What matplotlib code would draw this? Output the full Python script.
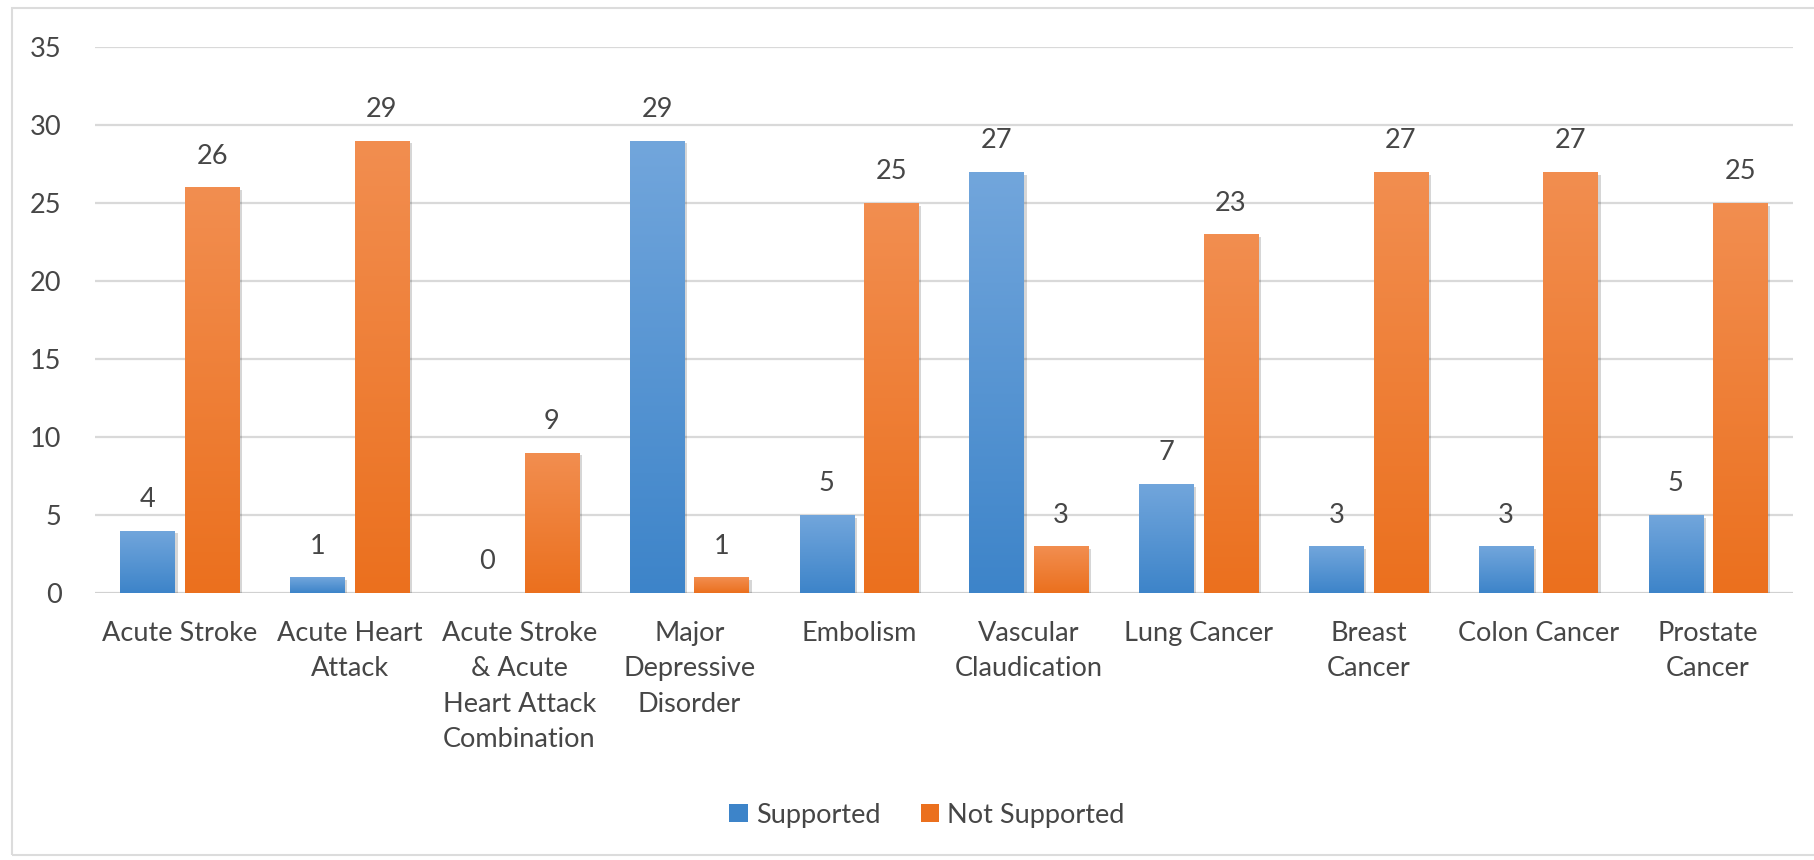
import numpy as np
import matplotlib
matplotlib.use("Agg")
import matplotlib.pyplot as plt
from matplotlib.colors import LinearSegmentedColormap
from matplotlib.patches import Rectangle, Patch
import matplotlib.patheffects as pe

categories = [
    "Acute Stroke",
    "Acute Heart\nAttack",
    "Acute Stroke\n& Acute\nHeart Attack\nCombination",
    "Major\nDepressive\nDisorder",
    "Embolism",
    "Vascular\nClaudication",
    "Lung Cancer",
    "Breast\nCancer",
    "Colon Cancer",
    "Prostate\nCancer",
]
supported = [4, 1, 0, 29, 5, 27, 7, 3, 3, 5]
not_supported = [26, 29, 9, 1, 25, 3, 23, 27, 27, 25]
series_names = ["Supported", "Not Supported"]
y_ticks = [0, 5, 10, 15, 20, 25, 30, 35]

# (top colour, bottom colour) for each series' vertical gradient
blue = ("#72a6dc", "#3d84c9")
orange = ("#f28e50", "#eb701e")
text_color = "#464646"
grid_color = "#d9d9d9"
fs = 19.5

plt.rcParams["font.family"] = ["Lato", "DejaVu Sans"]

fig = plt.figure(figsize=(18.14, 8.6), dpi=100)
ax = fig.add_axes([95 / 1814, 1 - 593 / 860, (1793 - 95) / 1814, (593 - 47) / 860])

x = np.arange(len(categories))
width = 0.32
offset = 0.19

shadow = [pe.SimplePatchShadow(offset=(2, -2), shadow_rgbFace="#000000", alpha=0.16), pe.Normal()]


def gradient_bars(xpos, values, colors, label):
    bars = ax.bar(xpos, values, width, color=colors[1], label=label, zorder=3)
    cmap = LinearSegmentedColormap.from_list("g", [colors[1], colors[0]])
    grad = np.linspace(0, 1, 256).reshape(-1, 1)
    for b in bars:
        b.set_path_effects(shadow)
        h = b.get_height()
        if h <= 0:
            continue
        bx = b.get_x()
        im = ax.imshow(grad, cmap=cmap, origin="lower", aspect="auto",
                       extent=(bx, bx + b.get_width(), 0, h), zorder=4,
                       interpolation="bilinear")
        im.set_clip_path(b)
    for xi, v in zip(xpos, values):
        ax.annotate(str(v), (xi, v), xytext=(0, 17), textcoords="offset points",
                    ha="center", va="baseline", fontsize=fs, color=text_color)
    return bars


gradient_bars(x - offset, supported, blue, series_names[0])
gradient_bars(x + offset, not_supported, orange, series_names[1])

ax.set_xlim(-0.5, len(categories) - 0.5)
ax.set_ylim(0, 35)
ax.set_yticks(y_ticks)
ax.set_xticks(x)
ax.set_xticklabels(categories, linespacing=1.52)
ax.tick_params(axis="both", length=0, labelsize=fs, labelcolor=text_color)
ax.tick_params(axis="y", pad=24)
ax.tick_params(axis="x", pad=20)
for lbl in ax.get_xticklabels():
    lbl.set_verticalalignment("top")
ax.yaxis.grid(True, color=grid_color, linewidth=1.6, zorder=0)
ax.set_axisbelow(True)
for s in ax.spines.values():
    s.set_visible(False)
ax.axhline(0, color="#cfcfcf", linewidth=1.8, zorder=2)

handles = [Patch(facecolor=blue[1], label=series_names[0]),
           Patch(facecolor=orange[1], label=series_names[1])]
fig.legend(handles=handles, loc="center", bbox_to_anchor=(927 / 1814, 1 - 815 / 860),
           ncol=2, frameon=False, fontsize=fs, labelcolor=text_color,
           handlelength=0.68, handleheight=0.68, handletextpad=0.3, columnspacing=1.5)

# thin frame around the chart area
fig.patches.append(Rectangle((12 / 1814, 1 - 855 / 860), 1.0, (855 - 8) / 860,
                             transform=fig.transFigure, fill=False,
                             edgecolor="#dcdcdc", linewidth=1.5))

fig.savefig("out.png", dpi=100, facecolor="white")
